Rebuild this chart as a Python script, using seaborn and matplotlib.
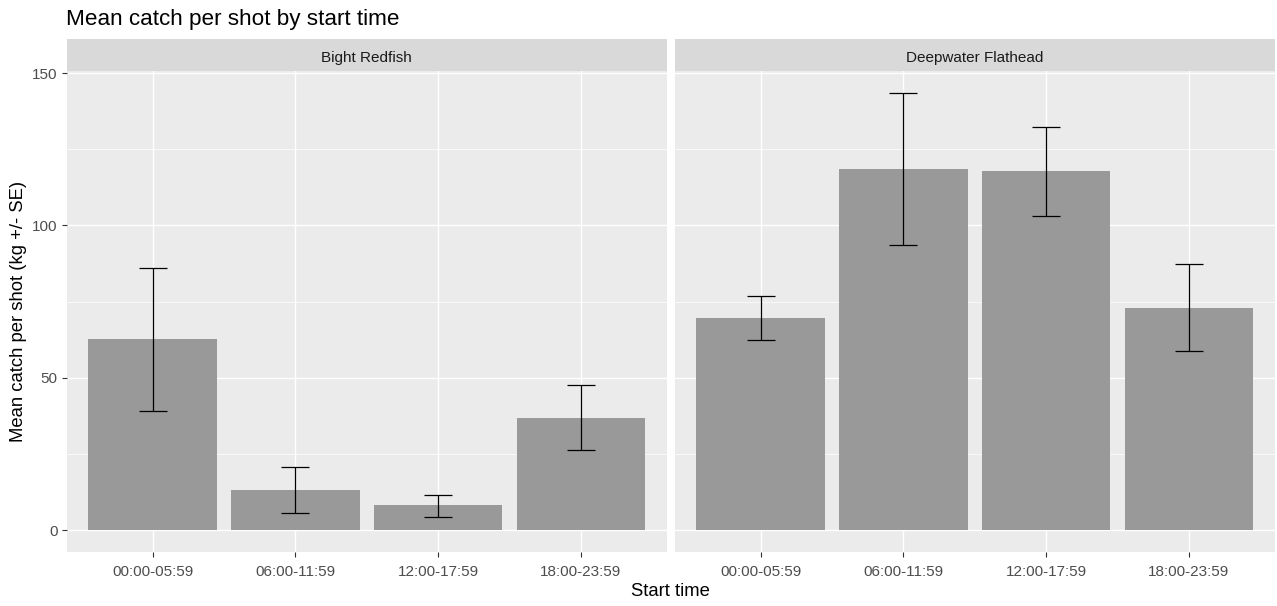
import matplotlib
matplotlib.use("Agg")
import matplotlib.pyplot as plt
import seaborn as sns
import pandas as pd

# Mean catch per shot (kg) and standard error bounds by shot start time
start_times = ["00:00-05:59", "06:00-11:59", "12:00-17:59", "18:00-23:59"]
species = ["Bight Redfish", "Deepwater Flathead"]

redfish_mean = [62.6, 13.1, 8.1, 36.9]
redfish_low = [39.0, 5.5, 4.4, 26.4]
redfish_high = [86.0, 20.6, 11.4, 47.5]

flathead_mean = [69.7, 118.6, 117.9, 73.0]
flathead_low = [62.4, 93.5, 103.1, 58.7]
flathead_high = [76.8, 143.6, 132.4, 87.2]

y_ticks = [0, 50, 100, 150]

df = pd.DataFrame({
    "species": [species[0]] * 4 + [species[1]] * 4,
    "start": start_times * 2,
    "mean": redfish_mean + flathead_mean,
    "low": redfish_low + flathead_low,
    "high": redfish_high + flathead_high,
})

sns.set_theme(style="darkgrid")
plt.rcParams["font.family"] = ["Liberation Sans", "DejaVu Sans"]

W, H = 1277, 606
fig = plt.figure(figsize=(W / 100, H / 100), dpi=100)
fig.patch.set_facecolor("white")

panel_w = 599.5
panel_lefts = [67.0, 675.0]
panel_top, panel_bot = 70.7, 552.0
strip_top = 39.3

ymax = df["high"].max()
ylim = (-0.05 * ymax, 1.05 * ymax)

for i, (sp, left) in enumerate(zip(species, panel_lefts)):
    ax = fig.add_axes([left / W, 1 - panel_bot / H, panel_w / W, (panel_bot - panel_top) / H])
    sub = df[df["species"] == sp]
    sns.barplot(data=sub, x="start", y="mean", order=start_times, color="#999999",
                saturation=1, width=0.9, errorbar=None, ax=ax, zorder=2,
                linewidth=0, edgecolor="none")
    xs = range(len(start_times))
    m = sub["mean"].to_numpy()
    ax.errorbar(xs, m, yerr=[m - sub["low"].to_numpy(), sub["high"].to_numpy() - m],
                fmt="none", ecolor="black", elinewidth=0.9, capsize=10, capthick=0.9, zorder=3)
    ax.set_facecolor("#EBEBEB")
    ax.set_xlim(-0.6, 3.6)
    ax.set_ylim(*ylim)
    ax.set_yticks(y_ticks)
    ax.set_yticks([25, 75, 125], minor=True)
    ax.grid(which="major", color="white", linewidth=1.0, zorder=0)
    ax.grid(which="minor", axis="y", color="white", linewidth=0.5, zorder=0)
    ax.set_axisbelow(True)
    for s in ax.spines.values():
        s.set_visible(False)
    ax.tick_params(axis="both", which="major", length=3.6, width=0.8, color="#333333",
                   labelcolor="#4D4D4D", labelsize=11.0, pad=3.0, left=True, bottom=True)
    ax.tick_params(axis="x", which="major", pad=5.5)
    ax.tick_params(axis="both", which="minor", length=0)
    ax.set_xlabel("")
    ax.set_ylabel("")
    if i == 1:
        ax.tick_params(axis="y", which="major", length=0, labelleft=False)

    # facet strip
    sax = fig.add_axes([left / W, 1 - panel_top / H, panel_w / W, (panel_top - strip_top) / H])
    sax.set_facecolor("#D9D9D9")
    sax.grid(False)
    sax.set_xticks([])
    sax.set_yticks([])
    for s in sax.spines.values():
        s.set_visible(False)
    sax.text(0.5, 0.42, sp, ha="center", va="center", fontsize=11.0, color="#1A1A1A",
             transform=sax.transAxes)

fig.text(66 / W, 1 - 19 / H, "Mean catch per shot by start time", ha="left", va="center",
         fontsize=16.2, color="black")
fig.text((67 + 1274.5) / 2 / W, 1 - 591 / H, "Start time", ha="center", va="center",
         fontsize=13.3, color="black")
fig.text(19 / W, 1 - 311 / H, "Mean catch per shot (kg +/- SE)", ha="center", va="center",
         rotation=90, fontsize=13.3, color="black")

fig.savefig("out.png", dpi=100, facecolor="white")
